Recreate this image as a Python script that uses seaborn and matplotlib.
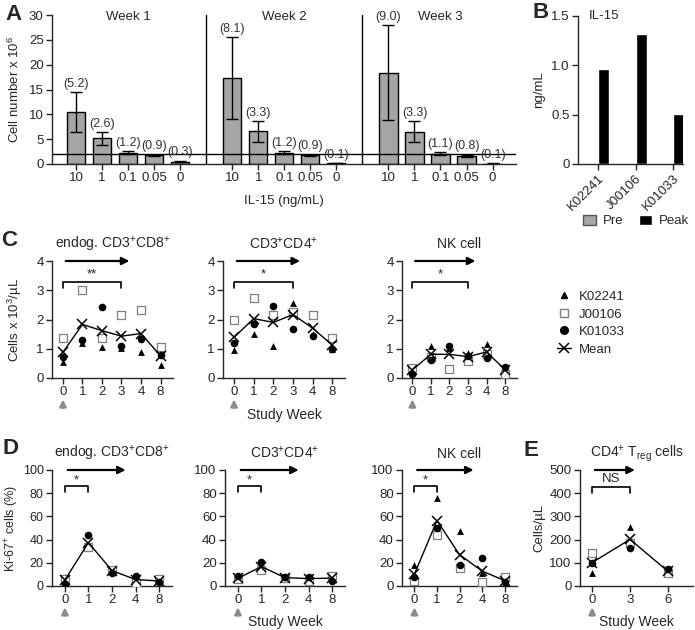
import numpy as np
import pandas as pd
import seaborn as sns
import matplotlib.pyplot as plt
from matplotlib.lines import Line2D
from matplotlib.patches import Patch

sns.set_style('ticks')
plt.rcParams['font.family'] = ['Liberation Sans', 'DejaVu Sans']
plt.rcParams['mathtext.fontset'] = 'custom'
plt.rcParams['mathtext.rm'] = 'Liberation Sans'
plt.rcParams['mathtext.it'] = 'Liberation Sans:italic'
plt.rcParams['mathtext.default'] = 'regular'
plt.rcParams['axes.linewidth'] = 1.0
plt.rcParams['xtick.major.width'] = 1.0
plt.rcParams['ytick.major.width'] = 1.0
plt.rcParams['xtick.major.size'] = 4
plt.rcParams['ytick.major.size'] = 4

######################################## Data ########################################

# A: in vitro expansion with IL-15
il15_doses = ['10', '1', '0.1', '0.05', '0']
week_names = ['Week 1', 'Week 2', 'Week 3']
cells_w1 = [10.5, 5.2, 2.3, 1.8, 0.5]
cells_w2 = [17.3, 6.6, 2.3, 1.8, 0.15]
cells_w3 = [18.4, 6.5, 2.1, 1.7, 0.1]
lo_w1 = [6.5, 3.9, 2.0, 1.6, 0.4]
lo_w2 = [9.0, 4.5, 2.0, 1.6, 0.1]
lo_w3 = [8.8, 4.4, 1.8, 1.5, 0.05]
hi_w1 = [14.4, 6.5, 2.6, 1.9, 0.7]
hi_w2 = [25.5, 8.7, 2.6, 1.9, 0.2]
hi_w3 = [28.0, 8.6, 2.4, 1.9, 0.15]
fold_w1 = ['(5.2)', '(2.6)', '(1.2)', '(0.9)', '(0.3)']
fold_w2 = ['(8.1)', '(3.3)', '(1.2)', '(0.9)', '(0.1)']
fold_w3 = ['(9.0)', '(3.3)', '(1.1)', '(0.8)', '(0.1)']

# B: serum IL-15
subjects = ['K02241', 'J00106', 'K01033']
il15_pre = [0.005, 0.005, 0.0]
il15_peak = [0.96, 1.32, 0.51]

# C: absolute counts (x 10^3/uL)
weeks_c = ['0', '1', '2', '3', '4', '8']
cd8_K02241 = [0.53, 1.18, 1.06, 1.03, 0.89, 0.43]
cd8_J00106 = [1.38, 3.00, 1.37, 2.17, 2.31, 1.05]
cd8_K01033 = [0.72, 1.31, 2.43, 1.10, 1.35, 0.79]
cd8_mean = [0.88, 1.83, 1.62, 1.43, 1.52, 0.76]
cd4_K02241 = [0.95, 1.52, 1.10, 2.58, 1.49, 0.98]
cd4_J00106 = [2.00, 2.72, 2.17, 2.26, 2.17, 1.38]
cd4_K01033 = [1.21, 1.84, 2.45, 1.66, 1.42, 0.98]
cd4_mean = [1.39, 2.03, 1.90, 2.17, 1.70, 1.12]
nk_K02241 = [0.38, 1.11, 1.03, 0.86, 1.16, 0.33]
nk_J00106 = [0.33, 0.72, 0.30, 0.58, 0.82, 0.12]
nk_K01033 = [0.13, 0.60, 1.09, 0.76, 0.69, 0.39]
nk_mean = [0.28, 0.81, 0.81, 0.73, 0.89, 0.28]

# D: Ki-67+ (%)
weeks_d = ['0', '1', '2', '4', '8']
ki_cd8_K02241 = [8, 34, 14, 5, 4]
ki_cd8_J00106 = [6, 34, 14, 3, 5.7]
ki_cd8_K01033 = [2, 44, 11.5, 8.9, 3.2]
ki_cd8_mean = [5.3, 37.4, 13.2, 5.6, 4.3]
ki_cd4_K02241 = [6, 15.3, 7, 6.6, 7]
ki_cd4_J00106 = [5.7, 13.8, 6.5, 4.6, 8.9]
ki_cd4_K01033 = [8.5, 21, 8, 8, 4.6]
ki_cd4_mean = [6.7, 16.7, 7.2, 6.4, 6.8]
ki_nk_K02241 = [18, 75.6, 47.7, 11.6, 3]
ki_nk_J00106 = [4.3, 44, 15.2, 3.2, 8]
ki_nk_K01033 = [8, 49.7, 18, 23.9, 3.2]
ki_nk_mean = [10.1, 56.4, 27.0, 12.9, 4.7]

# E: Treg counts (cells/uL)
weeks_e = ['0', '3', '6']
treg_K02241 = [57, 253, 62]
treg_J00106 = [144, 184, 55]
treg_K01033 = [101, 165, 72]
treg_mean = [101, 201, 63]

######################################## Figure ########################################

fig = plt.figure(figsize=(6.95, 6.3), dpi=100)
W, H = 695, 630
FS = 9.5


def add_ax(x0, x1, ytop, ybot):
    return fig.add_axes([x0 / W, 1 - ybot / H, (x1 - x0) / W, (ybot - ytop) / H])


def style_ax(ax):
    sns.despine(ax=ax)
    ax.tick_params(labelsize=FS, direction='out', pad=2)


GREY = '#a5a5a5'
ARROW_GREY = '#8c8c8c'

######################################## Panel A ########################################

axA = add_ax(52, 516, 15, 164)
pos_a = [w * 6 + d for w in range(3) for d in range(5)]
dfA = pd.DataFrame({'pos': pos_a,
                    'cells': cells_w1 + cells_w2 + cells_w3})
sns.barplot(data=dfA, x='pos', y='cells', native_scale=True, color=GREY,
            edgecolor='black', linewidth=1, width=0.7, errorbar=None, ax=axA)
lo = np.array(lo_w1 + lo_w2 + lo_w3)
hi = np.array(hi_w1 + hi_w2 + hi_w3)
cells = dfA['cells'].values
axA.errorbar(pos_a, cells, yerr=[cells - lo, hi - cells], fmt='none',
             ecolor='black', elinewidth=1, capsize=4, capthick=1)
for p, top, lab in zip(pos_a, hi, fold_w1 + fold_w2 + fold_w3):
    axA.annotate(lab, (p, top), xytext=(0, 1.5), textcoords='offset points',
                 ha='center', va='bottom', fontsize=9, color='#333333')
axA.axhline(2, color='black', lw=1)
for xd in [5, 11]:
    axA.axvline(xd, color='black', lw=1)
for i, name in enumerate(week_names):
    axA.text(i * 6 + 2, 29.6, name, ha='center', va='center', fontsize=FS)
axA.set_xlim(-0.92, 16.9)
axA.set_ylim(0, 30)
axA.set_yticks(range(0, 31, 5))
axA.set_xticks(pos_a)
axA.set_xticklabels(il15_doses * 3)
axA.set_xlabel('IL-15 (ng/mL)', fontsize=FS, labelpad=8)
axA.set_ylabel('Cell number x 10$^{6}$', fontsize=FS, labelpad=5)
style_ax(axA)

######################################## Panel B ########################################

axB = add_ax(578, 683, 16, 164)
dfB = pd.DataFrame({'subject': subjects * 2,
                    'phase': ['Pre'] * 3 + ['Peak'] * 3,
                    'ngml': il15_pre + il15_peak})
sns.barplot(data=dfB, x='subject', y='ngml', hue='phase',
            palette={'Pre': GREY, 'Peak': 'black'}, width=0.6,
            errorbar=None, legend=False, ax=axB)
axB.set_xlim(-0.53, 2.26)
axB.set_ylim(0, 1.5)
axB.set_yticks([0, 0.5, 1.0, 1.5])
axB.set_yticklabels(['0', '0.5', '1.0', '1.5'])
axB.set_xlabel('')
axB.set_ylabel('ng/mL', fontsize=FS, labelpad=4)
axB.set_xticks(range(3))
axB.set_xticklabels(subjects, rotation=45, ha='right', rotation_mode='anchor')
axB.text(0.1, 1.0, 'IL-15', transform=axB.transAxes, ha='left', va='center', fontsize=FS)
style_ax(axB)
fig.legend(handles=[Patch(facecolor=GREY, edgecolor='#555555'), Patch(facecolor='black')],
           labels=['Pre', 'Peak'], ncol=2, loc='center', bbox_to_anchor=(0.915, 0.649),
           frameon=False, fontsize=FS, handlelength=1.0, handleheight=0.8,
           handletextpad=0.5, columnspacing=1.2)

######################################## Time courses ########################################


def timecourse(ax, weeks, tri, sq, circ, mean, ylim, yticks, title,
               arrow_end, bracket_end, bracket_y, star, star_y, xlim):
    x = np.arange(len(weeks))
    sns.scatterplot(x=x, y=tri, marker='^', color='black', s=24, linewidth=0, ax=ax, zorder=3)
    sns.scatterplot(x=x, y=sq, marker='s', color='white', edgecolor='#7f7f7f',
                    s=36, linewidth=0.9, ax=ax, zorder=3)
    sns.scatterplot(x=x, y=circ, marker='o', color='black', s=30, linewidth=0, ax=ax, zorder=3)
    sns.lineplot(x=x, y=mean, color='black', lw=1, marker='x', markersize=7,
                 markeredgewidth=1.1, markeredgecolor='black', ax=ax, zorder=4)
    ax.set_xlim(*xlim)
    ax.set_ylim(*ylim)
    ax.set_yticks(yticks)
    ax.set_xticks(x)
    ax.set_xticklabels(weeks)
    ax.set_title(title, fontsize=10, pad=9)
    top = ylim[1]
    ax.annotate('', xy=(arrow_end, top), xytext=(0, top),
                arrowprops=dict(arrowstyle='-|>', color='black', lw=1.6, mutation_scale=11),
                annotation_clip=False)
    tick = (ylim[1] - ylim[0]) * 0.05
    ax.plot([0, 0, bracket_end, bracket_end],
            [bracket_y - tick, bracket_y, bracket_y, bracket_y - tick],
            color='black', lw=1.2, clip_on=False)
    ax.text(bracket_end / 2, star_y, star, ha='center', va='bottom', fontsize=FS)
    trans = ax.get_xaxis_transform()
    ax.annotate('', xy=(0, -0.16), xytext=(0, -0.28), xycoords=trans, textcoords=trans,
                arrowprops=dict(arrowstyle='-|>', color=ARROW_GREY, lw=1.6, mutation_scale=10),
                annotation_clip=False)
    style_ax(ax)


# Panel C
c_xlim = (-0.56, 5.64)
axC1 = add_ax(52, 173, 261, 378)
timecourse(axC1, weeks_c, cd8_K02241, cd8_J00106, cd8_K01033, cd8_mean, (0, 4), range(5),
           'endog. CD3$^{+}$CD8$^{+}$', 3.55, 3, 3.28, '**', 3.35, c_xlim)
axC1.set_ylabel('Cells x 10$^{3}$/µL', fontsize=FS, labelpad=9)

axC2 = add_ax(223, 345, 261, 378)
timecourse(axC2, weeks_c, cd4_K02241, cd4_J00106, cd4_K01033, cd4_mean, (0, 4), range(5),
           'CD3$^{+}$CD4$^{+}$', 3.5, 3, 3.28, '*', 3.35, c_xlim)
axC2.set_xlabel('Study Week', fontsize=10, labelpad=7)

axC3 = add_ax(402, 517, 261, 378)
timecourse(axC3, weeks_c, nk_K02241, nk_J00106, nk_K01033, nk_mean, (0, 4), range(5),
           'NK cell', 3.55, 3, 3.28, '*', 3.35, c_xlim)

legend_handles = [
    Line2D([0], [0], ls='none', marker='^', color='black', markersize=5),
    Line2D([0], [0], ls='none', marker='s', markerfacecolor='white',
           markeredgecolor='#7f7f7f', markersize=6),
    Line2D([0], [0], ls='none', marker='o', color='black', markersize=5.5),
    Line2D([0], [0], color='black', lw=1, marker='x', markersize=7, markeredgewidth=1.1),
]
fig.legend(legend_handles, subjects + ['Mean'], loc='center left',
           bbox_to_anchor=(0.785, 0.487), frameon=False, fontsize=FS,
           handlelength=1.0, handletextpad=0.6, labelspacing=0.4)

# Panel D
d_xlim = (-0.55, 4.55)
axD1 = add_ax(52, 172, 470, 586)
timecourse(axD1, weeks_d, ki_cd8_K02241, ki_cd8_J00106, ki_cd8_K01033, ki_cd8_mean,
           (0, 100), range(0, 101, 20), 'endog. CD3$^{+}$CD8$^{+}$', 2.7, 1, 86, '*', 86, d_xlim)
axD1.tick_params(axis='y', labelsize=9)
axD1.set_ylabel('Ki-67$^{+}$ cells (%)', fontsize=9, labelpad=1)

axD2 = add_ax(225, 345, 470, 586)
timecourse(axD2, weeks_d, ki_cd4_K02241, ki_cd4_J00106, ki_cd4_K01033, ki_cd4_mean,
           (0, 100), range(0, 101, 20), 'CD3$^{+}$CD4$^{+}$', 2.7, 1, 86, '*', 86, d_xlim)
axD2.set_xlabel('Study Week', fontsize=10, labelpad=6)

axD3 = add_ax(402, 517, 470, 586)
timecourse(axD3, weeks_d, ki_nk_K02241, ki_nk_J00106, ki_nk_K01033, ki_nk_mean,
           (0, 100), range(0, 101, 20), 'NK cell', 2.75, 1, 86, '*', 86, d_xlim)

# Panel E
axE = add_ax(580, 693, 470, 586)
timecourse(axE, weeks_e, treg_K02241, treg_J00106, treg_K01033, treg_mean,
           (0, 500), range(0, 501, 100), 'CD4$^{+}$ T$_{reg}$ cells', 1.2, 1, 425, 'NS', 435,
           (-0.32, 2.66))
axE.set_ylabel('Cells/µL', fontsize=FS, labelpad=3)
axE.set_xlabel('Study Week', fontsize=10, labelpad=6)

######################################## Panel letters ########################################

for letter, (px, py) in {'A': (13, 14), 'B': (541, 13), 'C': (9, 240),
                         'D': (10, 448), 'E': (531, 450)}.items():
    fig.text(px / W, 1 - py / H, letter, fontsize=16, fontweight='bold',
             ha='center', va='center')

fig.savefig('out.png', dpi=100)
